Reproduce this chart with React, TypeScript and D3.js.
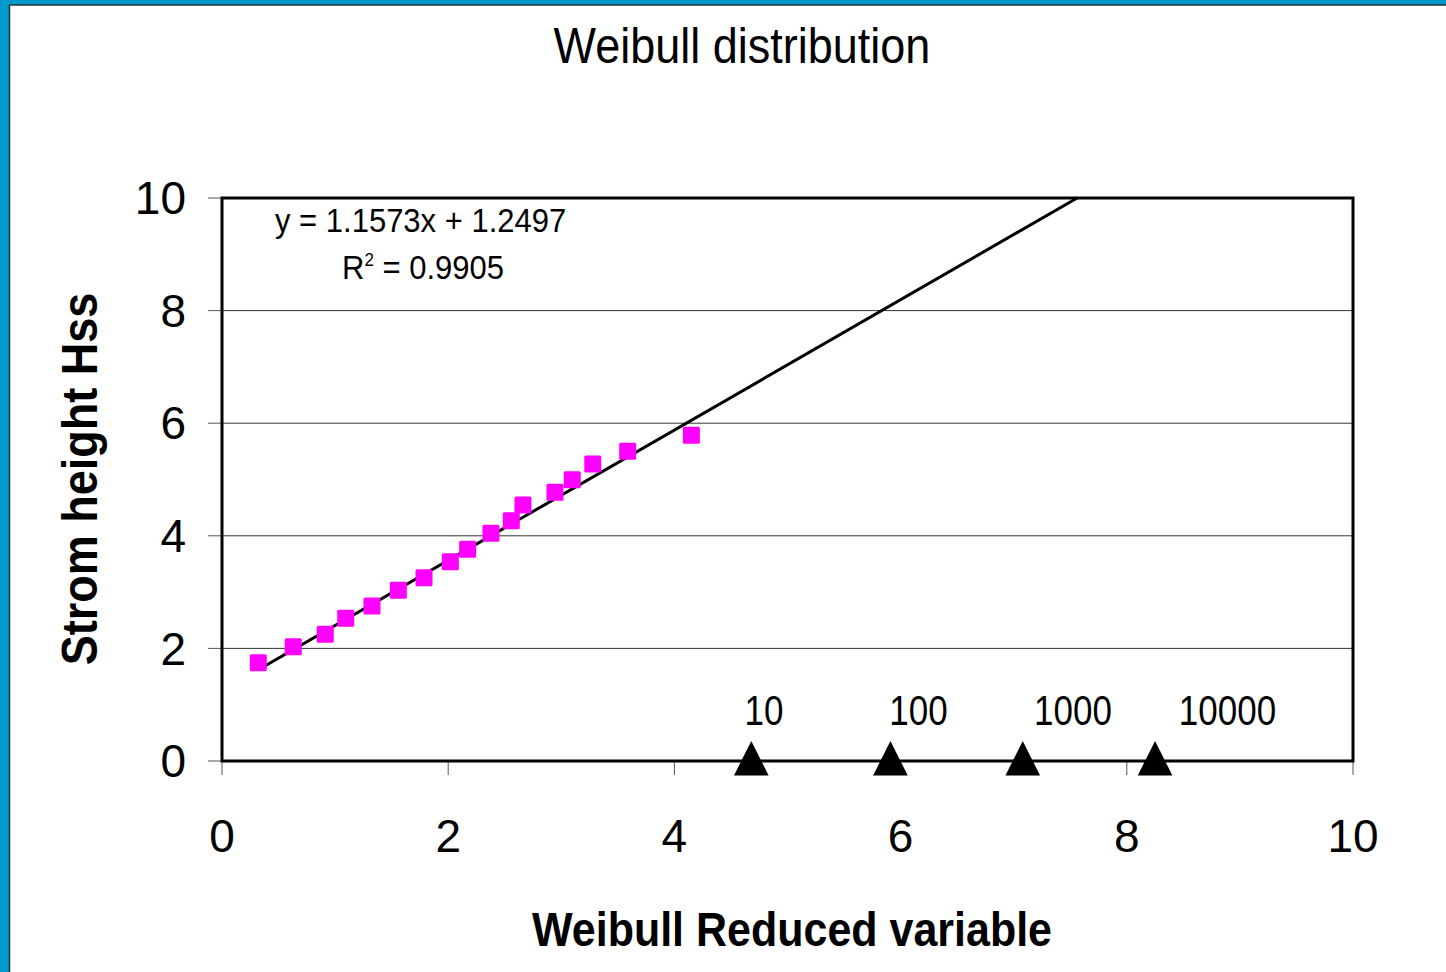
import React from "react";
import * as d3 from "d3";

const reducedVar = [0.321, 0.63, 0.913, 1.094, 1.326, 1.559, 1.786, 2.019, 2.172, 2.378, 2.558, 2.661, 2.944, 3.097, 3.278, 3.587, 4.15];
const stormHeight = [1.746, 2.03, 2.25, 2.535, 2.753, 3.032, 3.256, 3.54, 3.76, 4.044, 4.268, 4.547, 4.773, 4.996, 5.275, 5.501, 5.785];
const slope = 1.1573;
const intercept = 1.2497;
const returnPeriods = ["10", "100", "1000", "10000"];
const returnPeriodX = [4.68, 5.91, 7.08, 8.25];
const returnLabelX = [4.62, 5.9, 7.18, 8.46];
const returnLabelY = 0.65;
const xTicks = [0, 2, 4, 6, 8, 10];
const yTicks = [0, 2, 4, 6, 8, 10];

export default function App() {
  const W = 1446, H = 972;
  const x = d3.scaleLinear().domain([0, 10]).range([222, 1353]);
  const y = d3.scaleLinear().domain([0, 10]).range([761, 198]);
  const font = "Liberation Sans, Arial, sans-serif";

  const xStart = reducedVar[0];
  const xEnd = (10 - intercept) / slope;
  const trend = d3.line<number>().x((v) => x(v)).y((v) => y(slope * v + intercept))([xStart, xEnd]);

  const tri = d3.symbol().type(d3.symbolTriangle);

  return (
    <svg width={W} height={H} style={{ position: "absolute", left: 0, top: 0, background: "#fff" }}>
      <rect x={0} y={0} width={W} height={H} fill="#fff" />
      {/* frame */}
      <rect x={0} y={0} width={W} height={5} fill="#0099CC" />
      <rect x={0} y={0} width={9} height={H} fill="#0099CC" />
      <line x1={9.5} y1={5} x2={9.5} y2={H} stroke="#1c3340" strokeWidth={1.5} />
      <line x1={9} y1={5} x2={W} y2={5} stroke="#1c3340" strokeWidth={1.5} />

      <text transform="translate(742,63) scale(1,1.1)" textAnchor="middle" fontFamily={font} fontSize={45} fill="#000">Weibull distribution</text>

      {/* gridlines */}
      {yTicks.filter((t) => t > 0 && t < 10).map((t) => (
        <line key={"g" + t} x1={x(0)} x2={x(10)} y1={y(t)} y2={y(t)} stroke="#333" strokeWidth={1} />
      ))}
      {/* y ticks */}
      {yTicks.map((t) => (
        <g key={"yt" + t}>
          <line x1={208} x2={x(0)} y1={y(t)} y2={y(t)} stroke="#555" strokeWidth={1} />
          <text x={186} y={y(t)} dy="0.35em" textAnchor="end" fontFamily={font} fontSize={46} fill="#000">{t}</text>
        </g>
      ))}
      {/* x ticks */}
      {xTicks.map((t) => (
        <g key={"xt" + t}>
          <line x1={x(t)} x2={x(t)} y1={y(0)} y2={y(0) + 14} stroke="#555" strokeWidth={1} />
          <text x={x(t)} y={852} textAnchor="middle" fontFamily={font} fontSize={46} fill="#000">{t}</text>
        </g>
      ))}

      {/* plot border */}
      <rect x={x(0)} y={y(10)} width={x(10) - x(0)} height={y(0) - y(10)} fill="none" stroke="#000" strokeWidth={3} />

      {/* trendline */}
      <path d={trend || ""} fill="none" stroke="#000" strokeWidth={3} />

      {/* data */}
      {reducedVar.map((v, i) => (
        <rect key={"p" + i} x={x(v) - 8.5} y={y(stormHeight[i]) - 8.5} width={17} height={17} rx={1.5} fill="#FF00FF" />
      ))}

      {/* return period markers */}
      {returnPeriodX.map((v, i) => (
        <g key={"r" + i}>
          <path d={tri.size(520)() || ""} transform={`translate(${x(v)},${y(0) + 3}) scale(1,1.15)`} fill="#000" />
          <text transform={`translate(${x(returnLabelX[i])},${y(returnLabelY) + 1}) scale(1,1.2)`} fontFamily={font} fontSize={35} fill="#000">{returnPeriods[i]}</text>
        </g>
      ))}

      {/* equation */}
      <text transform="translate(275,232) scale(1,1.1)" fontFamily={font} fontSize={31} fill="#000">y = 1.1573x + 1.2497</text>
      <text transform="translate(342,279) scale(1,1.1)" fontFamily={font} fontSize={31} fill="#000">
        R<tspan fontSize={17} dy={-12}>2</tspan><tspan dy={12}> = 0.9905</tspan>
      </text>

      {/* axis titles */}
      <text transform="translate(792,946) scale(1,1.12)" textAnchor="middle" fontFamily={font} fontWeight="bold" fontSize={43} fill="#000">Weibull Reduced variable</text>
      <text transform={`translate(97,479) rotate(-90) scale(1,1.12)`} textAnchor="middle" fontFamily={font} fontWeight="bold" fontSize={45} fill="#000">Strom height Hss</text>
    </svg>
  );
}
